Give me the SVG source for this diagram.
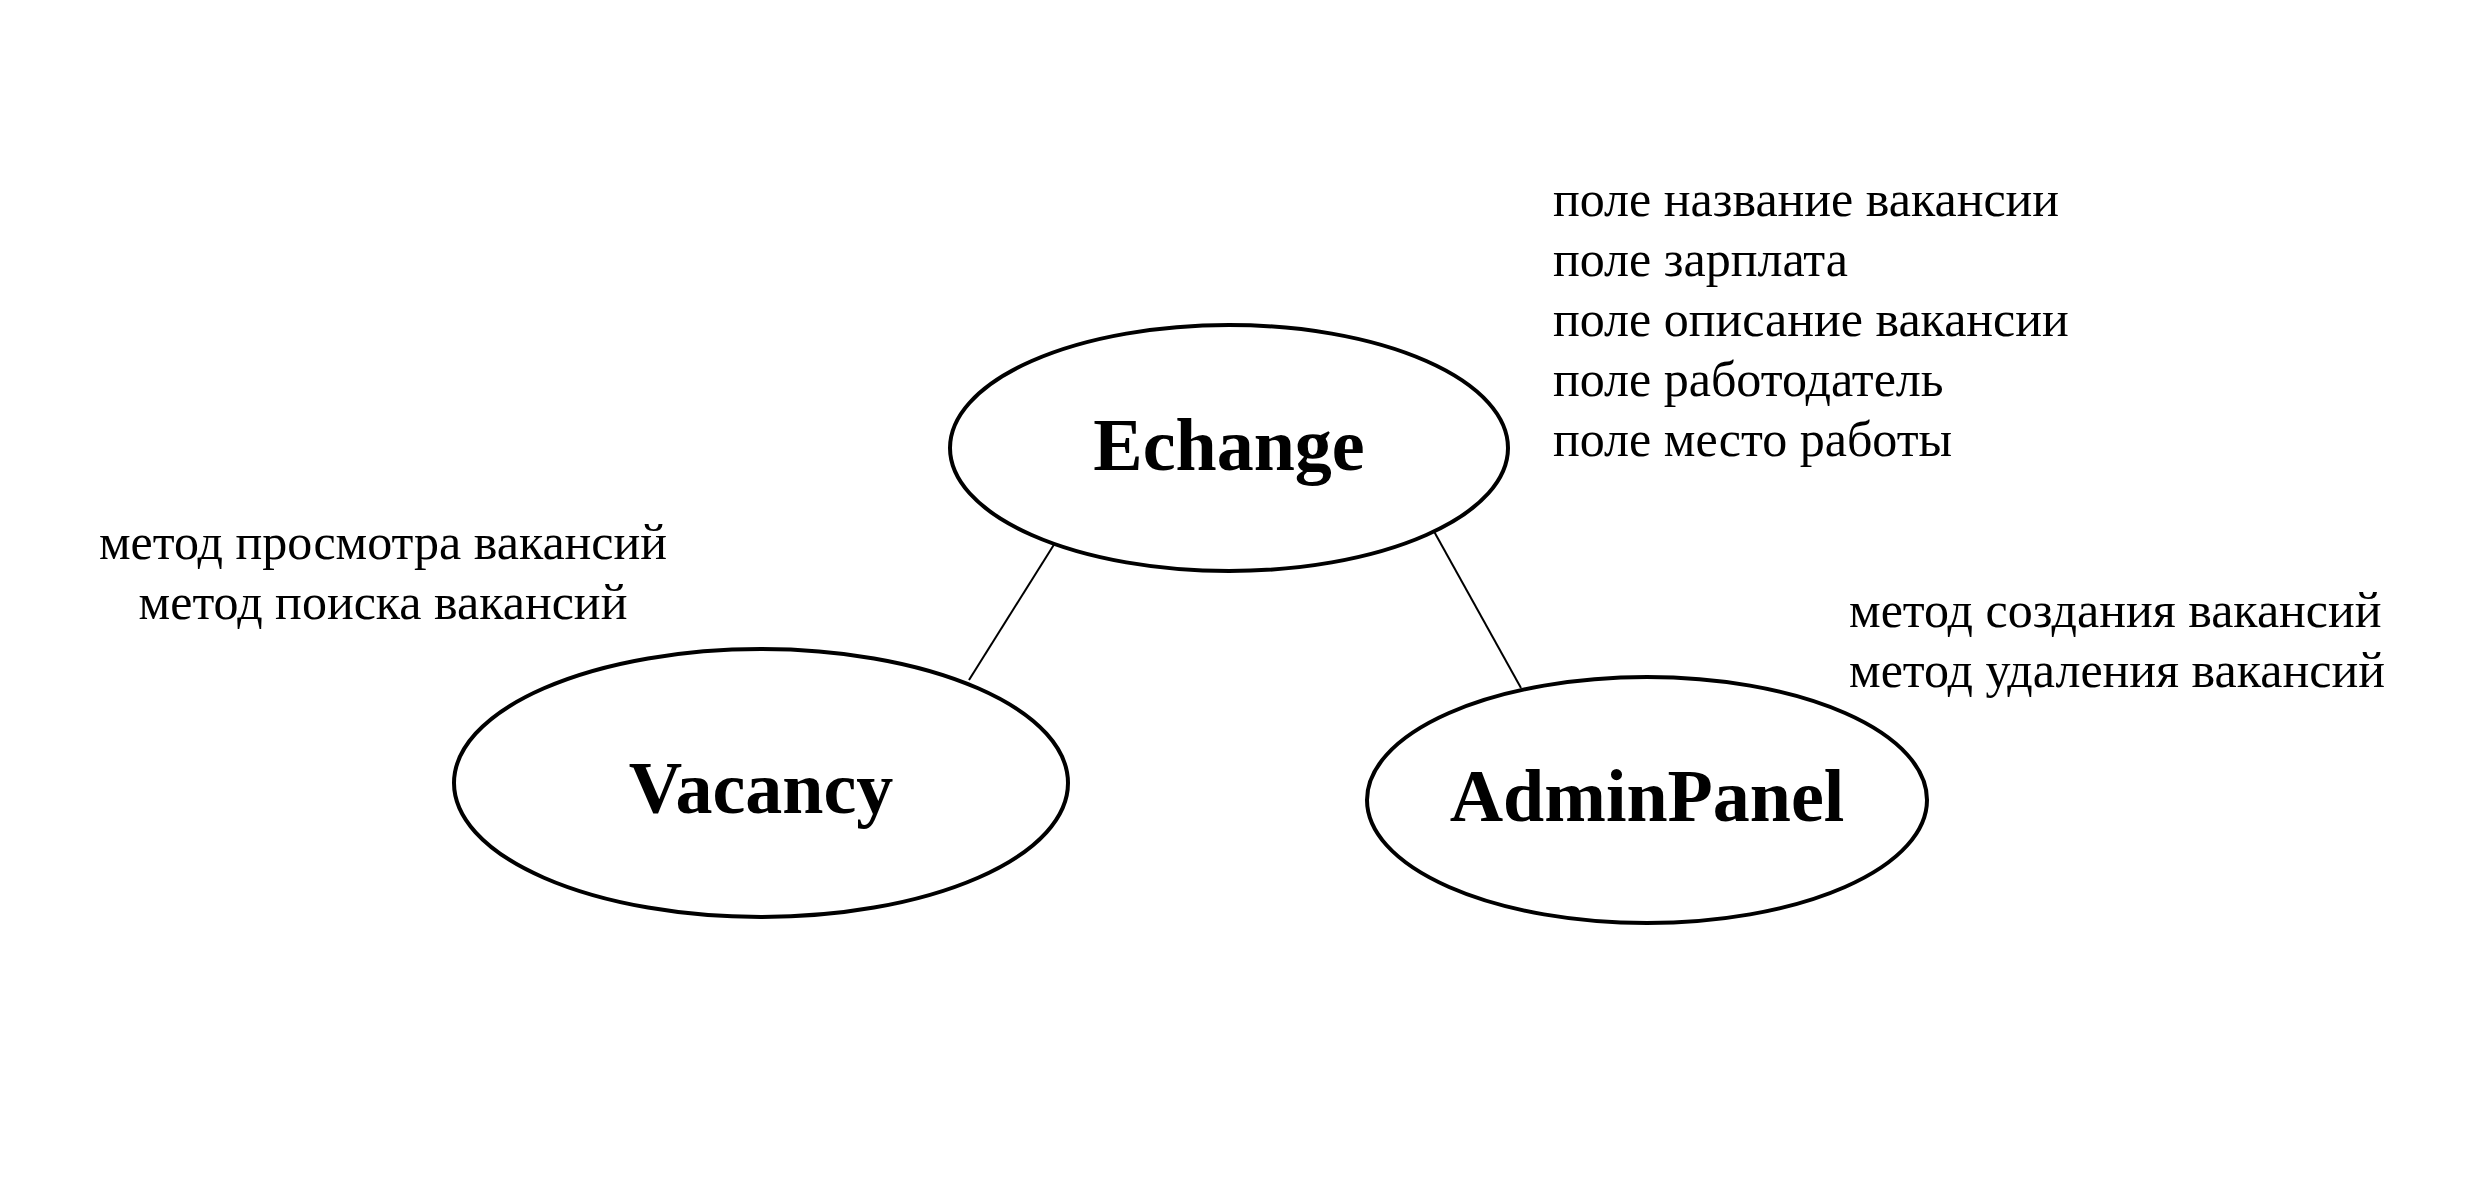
<svg xmlns="http://www.w3.org/2000/svg" width="2480" height="1181" viewBox="0 0 2480 1181">
<style>
.node{fill:#fff;stroke:#000;stroke-width:4}
.lbl{font-family:"Liberation Serif","Times New Roman",serif;font-weight:bold;font-size:74px;text-anchor:middle;fill:#000}
.note{font-family:"Liberation Serif","Times New Roman",serif;font-size:50px;fill:#000}
.edge{stroke:#000;stroke-width:2;fill:none}
</style>
<rect width="2480" height="1181" fill="#fff"/>
<g id="connectors">
<line class="edge" x1="1055" y1="543" x2="969" y2="680"/>
<line class="edge" x1="1431" y1="526" x2="1521" y2="688"/>
</g>
<g id="echange">
<ellipse class="node" cx="1229" cy="448" rx="279" ry="123"/>
<text class="lbl" x="1229" y="470">Echange</text>
</g>
<g id="vacancy">
<ellipse class="node" cx="761" cy="783" rx="307" ry="134"/>
<text class="lbl" x="761" y="813">Vacancy</text>
</g>
<g id="adminpanel">
<ellipse class="node" cx="1647" cy="800" rx="280" ry="123"/>
<text class="lbl" x="1647" y="821">AdminPanel</text>
</g>
<g id="echange-fields">
<text class="note" x="1553" y="216">поле название вакансии</text>
<text class="note" x="1553" y="276">поле зарплата</text>
<text class="note" x="1553" y="336">поле описание вакансии</text>
<text class="note" x="1553" y="396">поле работодатель</text>
<text class="note" x="1553" y="456">поле место работы</text>
</g>
<g id="vacancy-methods">
<text class="note" x="383" y="559" text-anchor="middle">метод просмотра вакансий</text>
<text class="note" x="383" y="619" text-anchor="middle">метод поиска вакансий</text>
</g>
<g id="admin-methods">
<text class="note" x="1849" y="627">метод создания вакансий</text>
<text class="note" x="1849" y="687">метод удаления вакансий</text>
</g>
</svg>
